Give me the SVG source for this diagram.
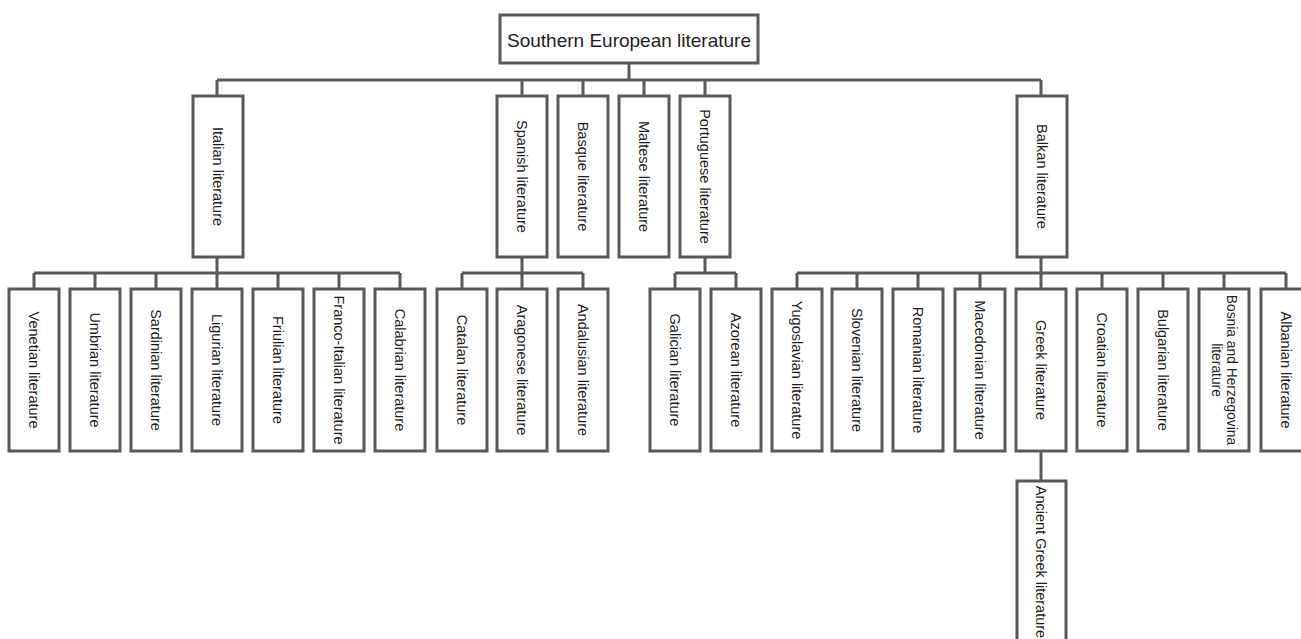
<svg xmlns="http://www.w3.org/2000/svg" width="1301" height="639" viewBox="0 0 1301 639">
<style>
rect.b{fill:#fff;stroke:#595959;stroke-width:3}
.c path{fill:none;stroke:#595959;stroke-width:3}
text{font-family:"Liberation Sans",Arial,sans-serif;fill:#1e1e1e;text-anchor:middle;dominant-baseline:central}
text.v{font-size:14.5px}
text.r{font-size:19px}
</style>
<rect width="1301" height="639" fill="#fff"/>
<g class="c" id="connectors">
<path d="M629 63V80M217 80H1041M217 80V96M522 80V96M583 80V96M644 80V96M705 80V96M1041 80V96"/>
<path d="M217 257V289M34 273H400M34 273V289M95 273V289M156 273V289M278 273V289M339 273V289M400 273V289"/>
<path d="M522 257V289M462 273H583M462 273V289M583 273V289"/>
<path d="M705 257V273M675 273H736M675 273V289M736 273V289"/>
<path d="M1041 257V289M797 273H1286M797 273V289M857 273V289M918 273V289M980 273V289M1102 273V289M1163 273V289M1224 273V289M1286 273V289"/>
<path d="M1041 451V481"/>
</g>
<g id="root"><rect class="b" x="500" y="15" width="258" height="48"/><text class="r" x="629" y="40">Southern European literature</text></g>
<g id="italian"><rect class="b" x="193" y="96" width="50" height="161"/><text class="v" transform="translate(218 176.5) rotate(90)">Italian literature</text></g>
<g id="spanish"><rect class="b" x="497" y="96" width="50" height="161"/><text class="v" transform="translate(522 176.5) rotate(90)">Spanish literature</text></g>
<g id="basque"><rect class="b" x="558" y="96" width="50" height="161"/><text class="v" transform="translate(583 176.5) rotate(90)">Basque literature</text></g>
<g id="maltese"><rect class="b" x="619" y="96" width="50" height="161"/><text class="v" transform="translate(644 176.5) rotate(90)">Maltese literature</text></g>
<g id="portuguese"><rect class="b" x="680" y="96" width="50" height="161"/><text class="v" transform="translate(705 176.5) rotate(90)">Portuguese literature</text></g>
<g id="balkan"><rect class="b" x="1017" y="96" width="50" height="161"/><text class="v" transform="translate(1042 176.5) rotate(90)">Balkan literature</text></g>
<g id="venetian"><rect class="b" x="9" y="289" width="50" height="162"/><text class="v" transform="translate(34 370) rotate(90)">Venetian literature</text></g>
<g id="umbrian"><rect class="b" x="70" y="289" width="50" height="162"/><text class="v" transform="translate(95 370) rotate(90)">Umbrian literature</text></g>
<g id="sardinian"><rect class="b" x="131" y="289" width="50" height="162"/><text class="v" transform="translate(156 370) rotate(90)">Sardinian literature</text></g>
<g id="ligurian"><rect class="b" x="192" y="289" width="50" height="162"/><text class="v" transform="translate(217 370) rotate(90)">Ligurian literature</text></g>
<g id="friulian"><rect class="b" x="253" y="289" width="50" height="162"/><text class="v" transform="translate(278 370) rotate(90)">Friulian literature</text></g>
<g id="franco-italian"><rect class="b" x="314" y="289" width="50" height="162"/><text class="v" transform="translate(339 370) rotate(90)">Franco-Italian literature</text></g>
<g id="calabrian"><rect class="b" x="375" y="289" width="50" height="162"/><text class="v" transform="translate(400 370) rotate(90)">Calabrian literature</text></g>
<g id="catalan"><rect class="b" x="437" y="289" width="50" height="162"/><text class="v" transform="translate(462 370) rotate(90)">Catalan literature</text></g>
<g id="aragonese"><rect class="b" x="497" y="289" width="50" height="162"/><text class="v" transform="translate(522 370) rotate(90)">Aragonese literature</text></g>
<g id="andalusian"><rect class="b" x="558" y="289" width="50" height="162"/><text class="v" transform="translate(583 370) rotate(90)">Andalusian literature</text></g>
<g id="galician"><rect class="b" x="650" y="289" width="50" height="162"/><text class="v" transform="translate(675 370) rotate(90)">Galician literature</text></g>
<g id="azorean"><rect class="b" x="711" y="289" width="50" height="162"/><text class="v" transform="translate(736 370) rotate(90)">Azorean literature</text></g>
<g id="yugoslavian"><rect class="b" x="772" y="289" width="50" height="162"/><text class="v" transform="translate(797 370) rotate(90)">Yugoslavian literature</text></g>
<g id="slovenian"><rect class="b" x="832" y="289" width="50" height="162"/><text class="v" transform="translate(857 370) rotate(90)">Slovenian literature</text></g>
<g id="romanian"><rect class="b" x="893" y="289" width="50" height="162"/><text class="v" transform="translate(918 370) rotate(90)">Romanian literature</text></g>
<g id="macedonian"><rect class="b" x="955" y="289" width="50" height="162"/><text class="v" transform="translate(980 370) rotate(90)">Macedonian literature</text></g>
<g id="greek"><rect class="b" x="1016" y="289" width="50" height="162"/><text class="v" transform="translate(1041 370) rotate(90)">Greek literature</text></g>
<g id="croatian"><rect class="b" x="1077" y="289" width="50" height="162"/><text class="v" transform="translate(1102 370) rotate(90)">Croatian literature</text></g>
<g id="bulgarian"><rect class="b" x="1138" y="289" width="50" height="162"/><text class="v" transform="translate(1163 370) rotate(90)">Bulgarian literature</text></g>
<g id="bosnia"><rect class="b" x="1199" y="289" width="50" height="162"/><text class="v" style="font-size:13.8px" transform="translate(1231.5 370) rotate(90)">Bosnia and Herzegovina</text><text class="v" style="font-size:13.8px" transform="translate(1216.5 370) rotate(90)">literature</text></g>
<g id="albanian"><rect class="b" x="1261" y="289" width="50" height="162"/><text class="v" transform="translate(1286 370) rotate(90)">Albanian literature</text></g>
<g id="ancient-greek"><rect class="b" x="1017" y="481" width="49" height="162"/><text class="v" transform="translate(1041 562) rotate(90)">Ancient Greek literature</text></g>
</svg>
